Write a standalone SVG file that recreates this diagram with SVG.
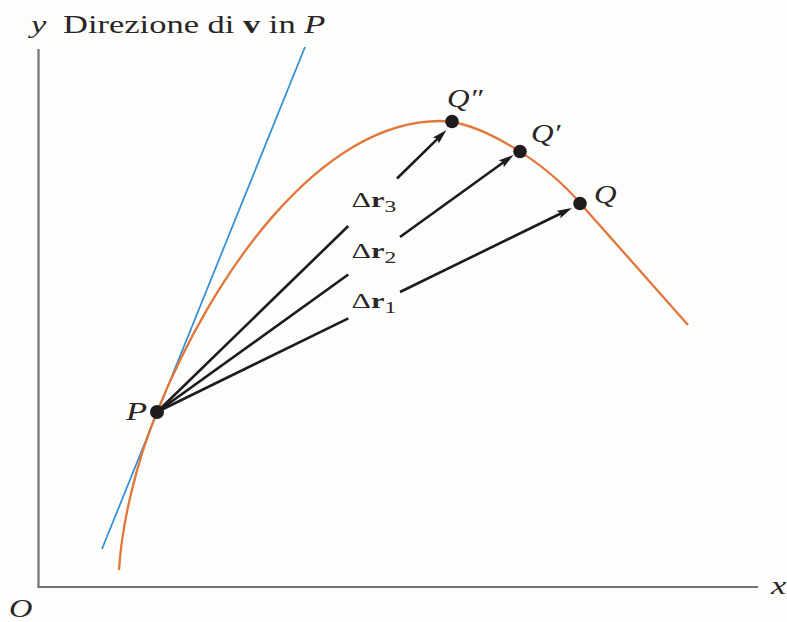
<svg xmlns="http://www.w3.org/2000/svg" width="787" height="622" viewBox="0 0 787 622">
  <style>
    .t { font-family: "Liberation Serif", "Times New Roman", serif; fill: #2a2626; }
    .it { font-style: italic; }
    .lbl { font-size: 25px; }
    .dr { font-size: 22px; }
    .axis { stroke: #737373; stroke-width: 2.2; fill: none; }
    .vec { stroke: #1f1b1b; stroke-width: 2.6; fill: none; }
    .dot { fill: #211c1c; }
  </style>
  <defs>
    <marker id="ah" markerUnits="userSpaceOnUse" markerWidth="18" markerHeight="12" refX="7" refY="5" orient="auto">
      <path d="M0,0.8 L15,5 L0,9.2 L2.5,5 Z" fill="#1f1b1b"/>
    </marker>
  </defs>
  <rect width="787" height="622" fill="#fdfdfb"/>

  <g id="axes">
    <line class="axis" x1="38.5" y1="49" x2="38.5" y2="587"/>
    <line class="axis" x1="37.5" y1="587" x2="758" y2="587"/>
    <text class="t it lbl" transform="translate(31,33) scale(1.38,1)">y</text>
    <text class="t lbl" transform="translate(63,33) scale(1.38,1)">Direzione di <tspan font-weight="bold">v</tspan> in <tspan font-style="italic">P</tspan></text>
    <text class="t it lbl" transform="translate(771,594) scale(1.38,1)">x</text>
    <text class="t it lbl" transform="translate(9,617) scale(1.3,1)">O</text>
  </g>

  <g id="tangent">
    <line x1="305" y1="47" x2="102" y2="549" stroke="#2e8fd6" stroke-width="1.7"/>
  </g>

  <g id="trajectory">
    <path d="M119,570 C122,520 138,458 157,412 C213,273 320,121 440,121 C480,121 545,162 580,203 L688,325" fill="none" stroke="#e2773b" stroke-width="2.3"/>
  </g>

  <g id="connectors">
    <line class="vec" x1="157" y1="412" x2="348.3" y2="318.3"/>
    <line class="vec" x1="400" y1="292" x2="564.8" y2="211.5" marker-end="url(#ah)"/>
    <line class="vec" x1="157" y1="412" x2="348.3" y2="274.5"/>
    <line class="vec" x1="400" y1="237" x2="507" y2="159.7" marker-end="url(#ah)"/>
    <line class="vec" x1="157" y1="412" x2="348.3" y2="226"/>
    <line class="vec" x1="397" y1="178.5" x2="440.8" y2="135.6" marker-end="url(#ah)"/>
  </g>

  <g id="labels-dr">
    <text class="t dr" transform="translate(351.5,207) scale(1.38,1)">Δ<tspan font-weight="bold">r</tspan><tspan font-size="17" dy="5">3</tspan></text>
    <text class="t dr" transform="translate(351.5,258) scale(1.38,1)">Δ<tspan font-weight="bold">r</tspan><tspan font-size="17" dy="5">2</tspan></text>
    <text class="t dr" transform="translate(351.5,308) scale(1.38,1)">Δ<tspan font-weight="bold">r</tspan><tspan font-size="17" dy="5">1</tspan></text>
  </g>

  <g id="node-P">
    <circle class="dot" cx="157" cy="412" r="7"/>
    <text class="t it lbl" transform="translate(126,420) scale(1.38,1)">P</text>
  </g>
  <g id="node-Q2">
    <circle class="dot" cx="452" cy="121.5" r="6.8"/>
    <text class="t it lbl" transform="translate(447,107) scale(1.25,1)">Q″</text>
  </g>
  <g id="node-Q1">
    <circle class="dot" cx="520" cy="151.5" r="6.8"/>
    <text class="t it lbl" transform="translate(531,142) scale(1.25,1)">Q′</text>
  </g>
  <g id="node-Q">
    <circle class="dot" cx="580" cy="203.5" r="6.8"/>
    <text class="t it lbl" transform="translate(594,203) scale(1.25,1)">Q</text>
  </g>
</svg>
